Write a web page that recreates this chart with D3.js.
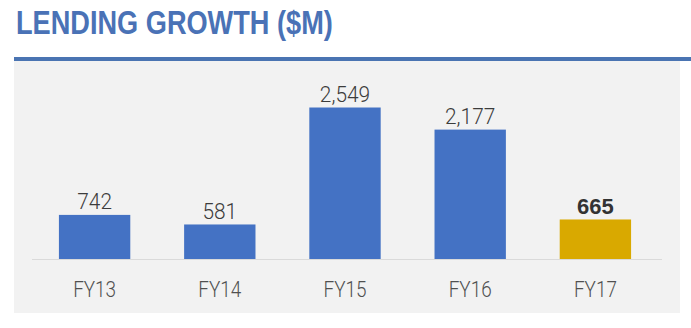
<!DOCTYPE html>
<html>
<head>
<meta charset="utf-8">
<script src="https://cdn.jsdelivr.net/npm/d3@7"></script>
<style>
  html, body { margin: 0; padding: 0; background: #ffffff; }
  svg { display: block; }
</style>
</head>
<body>
<svg id="chart" width="691" height="328"></svg>
<script>
// Lending growth by fiscal year ($M)
const categories = ["FY13", "FY14", "FY15", "FY16", "FY17"];
const values = [742, 581, 2549, 2177, 665];
const highlight = ["FY17"];

const W = 691, H = 328;
const svg = d3.select("#chart");

const sans = "'Liberation Sans', Arial, sans-serif";
const light = "Roboto, 'Liberation Sans', sans-serif";

// Squeeze text horizontally around its anchor to get a condensed face
function condense(sel, sx) {
  sel.each(function () {
    const t = d3.select(this);
    const px = +t.attr("x") || 0, py = +t.attr("y") || 0;
    const k = typeof sx === "function" ? sx(t.datum()) : sx;
    t.attr("x", 0).attr("y", 0)
      .attr("transform", `translate(${px},${py}) scale(${k},1)`);
  });
}

// Title
svg.append("text")
  .attr("x", 16)
  .attr("y", 33.5)
  .attr("font-family", sans)
  .attr("font-weight", "bold")
  .attr("font-size", 33)
  .attr("fill", "#4a72b6")
  .text("LENDING GROWTH ($M)")
  .call(condense, 0.823);

// Rule under the title
svg.append("rect")
  .attr("x", 14).attr("y", 57)
  .attr("width", W - 14).attr("height", 4)
  .attr("fill", "#4a74b2");

// Grey chart panel
svg.append("rect")
  .attr("x", 14).attr("y", 61)
  .attr("width", 666).attr("height", 252)
  .attr("fill", "#f2f2f2");

// Scales
const x = d3.scaleBand()
  .domain(categories)
  .range([32, 658])
  .paddingInner(0.43)
  .paddingOuter(0.215);

const y = d3.scaleLinear()
  .domain([0, 2549])
  .range([259, 107.5]);

// Baseline
svg.append("line")
  .attr("x1", 32).attr("x2", 662)
  .attr("y1", y(0) + 0.5).attr("y2", y(0) + 0.5)
  .attr("stroke", "#dadada")
  .attr("stroke-width", 1);

const data = categories.map((c, i) => ({ cat: c, value: values[i], hi: highlight.includes(c) }));

// Bars
svg.append("g").selectAll("rect")
  .data(data)
  .join("rect")
  .attr("x", d => x(d.cat))
  .attr("y", d => y(d.value))
  .attr("width", x.bandwidth())
  .attr("height", d => y(0) - y(d.value))
  .attr("fill", d => d.hi ? "#d9a900" : "#4472c4");

// Value labels
svg.append("g").selectAll("text")
  .data(data)
  .join("text")
  .attr("x", d => x(d.cat) + x.bandwidth() / 2)
  .attr("y", d => y(d.value) - 5.5)
  .attr("text-anchor", "middle")
  .attr("font-family", d => d.hi ? sans : light)
  .attr("font-size", 22)
  .attr("font-weight", d => d.hi ? "bold" : 300)
  .attr("fill", d => d.hi ? "#333333" : "#3c3c3c")
  .text(d => d3.format(",")(d.value))
  .call(condense, d => d.hi ? 1 : 0.95);

// Category axis
const axis = svg.append("g")
  .attr("transform", `translate(0,${y(0)})`)
  .call(d3.axisBottom(x).tickSize(0).tickPadding(0));
axis.select(".domain").remove();
axis.selectAll("text")
  .attr("dy", 0)
  .attr("y", 38)
  .attr("font-family", light)
  .attr("font-size", 22)
  .attr("font-weight", 300)
  .attr("fill", "#505050")
  .call(condense, 0.86);
</script>
</body>
</html>
